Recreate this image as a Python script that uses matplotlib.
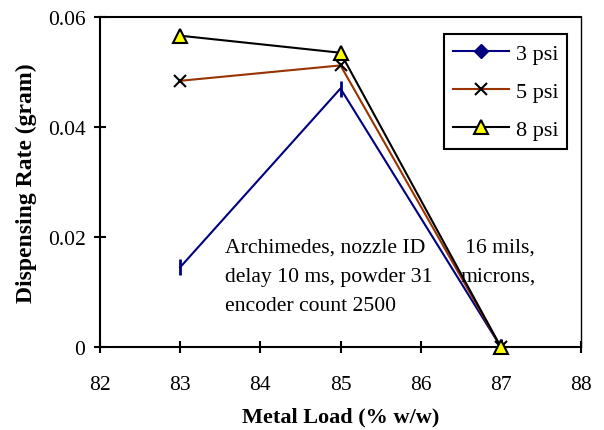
import matplotlib
matplotlib.use('Agg')
import matplotlib.pyplot as plt
from matplotlib.lines import Line2D

plt.rcParams['font.family'] = ['Liberation Serif', 'DejaVu Serif']

# data
metal_load = [83, 85, 87]
rate_3psi = [0.0145, 0.0470, 0.0]
rate_5psi = [0.0484, 0.0512, 0.0]
rate_8psi = [0.0566, 0.0535, 0.0]

x_ticks = [82, 83, 84, 85, 86, 87, 88]
y_ticks = [0, 0.02, 0.04, 0.06]
y_ticklabels = ['0', '0.02', '0.04', '0.06']

fig = plt.figure(figsize=(6.04, 4.31), dpi=100)
ax = fig.add_axes([100 / 604, 1 - 348 / 431, 481 / 604, 330 / 431])

ax.plot(metal_load, rate_3psi, color='#000080', lw=1.5, marker='|', ms=11, mew=2)
ax.plot(metal_load, rate_5psi, color='#993300', lw=1.5, marker='x', ms=9, mec='black', mew=1.5,
        clip_on=False, zorder=3)
ax.plot(metal_load, rate_8psi, color='black', lw=1.5, marker='^', ms=10, mfc='#ffff00', mec='black', mew=1.5,
        clip_on=False, zorder=4)

ax.set_xlim(82, 88)
ax.set_ylim(0, 0.06)
ax.set_xticks(x_ticks)
ax.set_yticks(y_ticks)
ax.set_yticklabels(y_ticklabels)
ax.tick_params(direction='inout', length=9, width=1.5, labelsize=15.5)
ax.tick_params(axis='x', pad=16)
ax.tick_params(axis='y', pad=6)
for s in ax.spines.values():
    s.set_linewidth(1.5)
ax.spines['right'].set_linewidth(1)

ax.set_xlabel('Metal Load (% w/w)', fontsize=16, fontweight='bold', labelpad=9)
ax.set_ylabel('Dispensing Rate (gram)', fontsize=17, fontweight='bold', labelpad=8)

tkw = dict(transform=ax.transAxes, fontsize=15.6, va='center', ha='left')
ax.text(0.26, 0.303, 'Archimedes, nozzle ID', **tkw)
ax.text(0.759, 0.303, '16 mils,', **tkw)
ax.text(0.26, 0.215, 'delay 10 ms, powder 31', **tkw)
ax.text(0.749, 0.215, 'microns,', **tkw)
ax.text(0.26, 0.126, 'encoder count 2500', **tkw)

handles = [
    Line2D([], [], color='#000080', lw=1.5, marker='D', ms=7, mfc='#000080', mec='#000080'),
    Line2D([], [], color='#993300', lw=1.5, marker='x', ms=9, mec='black', mew=1.5),
    Line2D([], [], color='black', lw=1.5, marker='^', ms=10, mfc='#ffff00', mec='black', mew=1.5),
]
leg = ax.legend(handles, ['3 psi', '5 psi', '8 psi'], loc='upper right',
                bbox_to_anchor=(0.971, 0.948), borderaxespad=0, fontsize=16,
                frameon=True, fancybox=False, edgecolor='black', framealpha=1,
                handlelength=2.5, labelspacing=0.8, borderpad=0.4,
                handletextpad=0.3)
leg.get_frame().set_linewidth(1.5)
leg.set_zorder(5)

fig.savefig('out.png', dpi=100)
